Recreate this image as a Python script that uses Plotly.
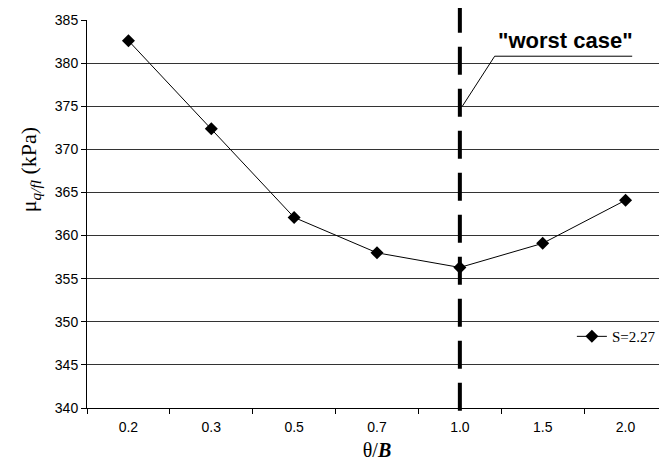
import plotly.graph_objects as go

categories = ["0.2", "0.3", "0.5", "0.7", "1.0", "1.5", "2.0"]
mu_qfl = [382.6, 372.4, 362.1, 358.0, 356.3, 359.1, 364.1]
series_name = "S=2.27"
y_ticks = [340, 345, 350, 355, 360, 365, 370, 375, 380, 385]
worst_case_cat = "1.0"
worst_case_label = "\"worst case\""

SANS = "Liberation Sans, Arial, sans-serif"
SERIF = "Liberation Serif, Times New Roman, serif"

fig = go.Figure()
fig.add_trace(go.Scatter(
    x=categories, y=mu_qfl, mode="lines+markers", name=series_name,
    line=dict(color="black", width=1),
    marker=dict(symbol="diamond", size=10, color="black"),
))

idx = categories.index(worst_case_cat)

# dashed vertical line at the worst case (drawn from top down so the dash phase starts at the top)
fig.add_shape(type="line", xref="x", yref="paper", x0=idx, x1=idx, y0=1.039, y1=-0.026,
              line=dict(color="black", width=4, dash="28px,14px"), layer="above")
# leader line and underline for the annotation
fig.add_shape(type="line", xref="x", yref="y", x0=idx + 0.03, y0=375, x1=idx + 0.42, y1=380.8,
              line=dict(color="black", width=1))
fig.add_shape(type="line", xref="x", yref="y", x0=idx + 0.42, y0=380.8, x1=idx + 2.08, y1=380.8,
              line=dict(color="black", width=1))
fig.add_annotation(x=idx + 1.27, y=380.95, xref="x", yref="y", text=worst_case_label,
                   showarrow=False, xanchor="center", yanchor="bottom",
                   font=dict(family=SANS, size=22, color="black", weight="bold"))

# y axis title
fig.add_annotation(x=-0.098, y=0.613, xref="paper", yref="paper", xanchor="center", yanchor="middle",
                   text="μ<sub><i>q/fl</i></sub> (kPa)", textangle=-90, showarrow=False,
                   font=dict(family=SERIF, size=22, color="black"))

# the page adds an 8px body margin, so the figure is shifted up/left to compensate
fig.update_layout(
    width=659, height=453,
    margin=dict(l=79, r=0, t=12, b=53, autoexpand=False),
    paper_bgcolor="white", plot_bgcolor="white",
    showlegend=True,
    legend=dict(x=0.836, y=0.184, xanchor="left", yanchor="middle",
                bgcolor="rgba(0,0,0,0)", font=dict(family=SERIF, size=15, color="black"),
                itemwidth=30),
    xaxis=dict(
        type="category", range=[-0.5, len(categories) - 0.5], automargin=False,
        tickson="boundaries", ticks="outside", ticklen=5, tickcolor="black",
        ticklabelstandoff=6,
        showline=True, linecolor="black", linewidth=1, showgrid=False,
        tickfont=dict(family=SANS, size=14, color="black"),
        title=dict(text="θ/<b><i>B</i></b>", font=dict(family=SERIF, size=20, color="black"), standoff=14),
    ),
    yaxis=dict(
        range=[340, 385], tickvals=y_ticks, ticks="outside", ticklen=5, tickcolor="black",
        automargin=False,
        showline=True, linecolor="black", linewidth=1,
        showgrid=True, gridcolor="#333333", gridwidth=1, zeroline=False,
        tickfont=dict(family=SANS, size=14, color="black"),
    ),
)

fig.write_html("out.html", config={"responsive": False})
